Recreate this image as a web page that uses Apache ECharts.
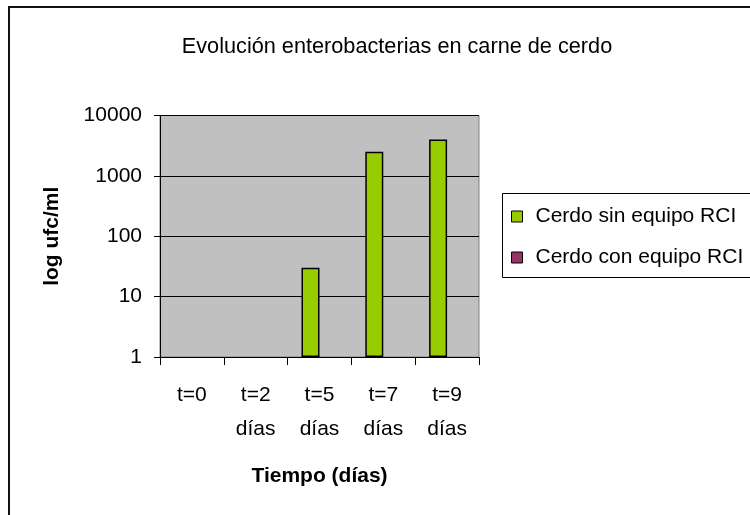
<!DOCTYPE html>
<html>
<head>
<meta charset="utf-8">
<script src="https://cdn.jsdelivr.net/npm/echarts@6/dist/echarts.min.js"></script>
<style>html,body{margin:0;padding:0;background:#fff}#c{width:750px;height:515px}</style>
</head>
<body>
<div id="c"></div>
<script>
const categories = ['t=0', 't=2\ndías', 't=5\ndías', 't=7\ndías', 't=9\ndías'];
const seriesNames = ['Cerdo sin equipo RCI', 'Cerdo con equipo RCI'];
const sinEquipo = [null, null, 30, 2500, 4000];
const conEquipo = [null, null, null, null, null];
const yTicks = [1, 10, 100, 1000, 10000];

const FONT = 'Liberation Sans';
const chart = echarts.init(document.getElementById('c'), null, {renderer: 'canvas'});
chart.setOption({
  backgroundColor: '#fff',
  animation: false,
  textStyle: {fontFamily: FONT, color: '#000'},
  title: {
    text: 'Evolución enterobacterias en carne de cerdo',
    left: 392, top: 31, textAlign: 'center',
    textStyle: {fontFamily: FONT, fontSize: 21.7, fontWeight: 'normal', color: '#000'}
  },
  graphic: [
    {type: 'rect', shape: {x: 9, y: 7, width: 760, height: 530}, style: {fill: 'none', stroke: '#111', lineWidth: 2}, silent: true},
    {type: 'rect', shape: {x: 502.5, y: 193.5, width: 260, height: 84}, style: {fill: 'none', stroke: '#000', lineWidth: 1}, silent: true}
  ],
  legend: {
    orient: 'vertical',
    left: 511, top: 206,
    padding: 0,
    itemWidth: 11, itemHeight: 11,
    itemGap: 20,
    icon: 'rect',
    data: seriesNames.map(n => ({name: n, itemStyle: {borderColor: '#000', borderWidth: 1}})),
    textStyle: {fontFamily: FONT, fontSize: 21, color: '#000', padding: [0, 0, 0, 8]}
  },
  grid: {
    left: 160, top: 115.5, right: 271, bottom: 158,
    show: true, backgroundColor: '#C0C0C0', borderColor: '#808080', borderWidth: 1,
    containLabel: false
  },
  xAxis: {
    type: 'category',
    data: categories,
    name: 'Tiempo (días)',
    nameLocation: 'middle',
    nameGap: 109,
    nameTextStyle: {fontFamily: FONT, fontSize: 21, fontWeight: 'bold', color: '#000'},
    axisLine: {lineStyle: {color: '#000', width: 1}},
    axisTick: {show: true, length: 8, interval: 0, alignWithLabel: false, lineStyle: {color: '#000'}},
    axisLabel: {interval: 0, margin: 21, fontFamily: FONT, fontSize: 21, lineHeight: 34, color: '#000'},
    splitLine: {show: false}
  },
  yAxis: {
    type: 'log',
    logBase: 10,
    min: yTicks[0], max: yTicks[yTicks.length - 1],
    name: 'log ufc/ml',
    nameLocation: 'middle',
    nameGap: 97,
    nameTextStyle: {fontFamily: FONT, fontSize: 21, fontWeight: 'bold', color: '#000'},
    axisLine: {show: true, lineStyle: {color: '#000', width: 1}},
    axisTick: {show: true, length: 6, inside: false, lineStyle: {color: '#000'}},
    axisLabel: {margin: 18, fontFamily: FONT, fontSize: 21, color: '#000', formatter: v => String(Math.round(v))},
    splitLine: {show: true, lineStyle: {color: '#000', width: 1}}
  },
  series: [
    {name: seriesNames[0], type: 'bar', data: sinEquipo, barWidth: 18, barGap: '0%',
      itemStyle: {color: '#99CC00', borderColor: '#000', borderWidth: 1.5}},
    {name: seriesNames[1], type: 'bar', data: conEquipo, barWidth: 18, barGap: '0%',
      itemStyle: {color: '#993366', borderColor: '#000', borderWidth: 1.5}}
  ]
});
</script>
</body>
</html>
